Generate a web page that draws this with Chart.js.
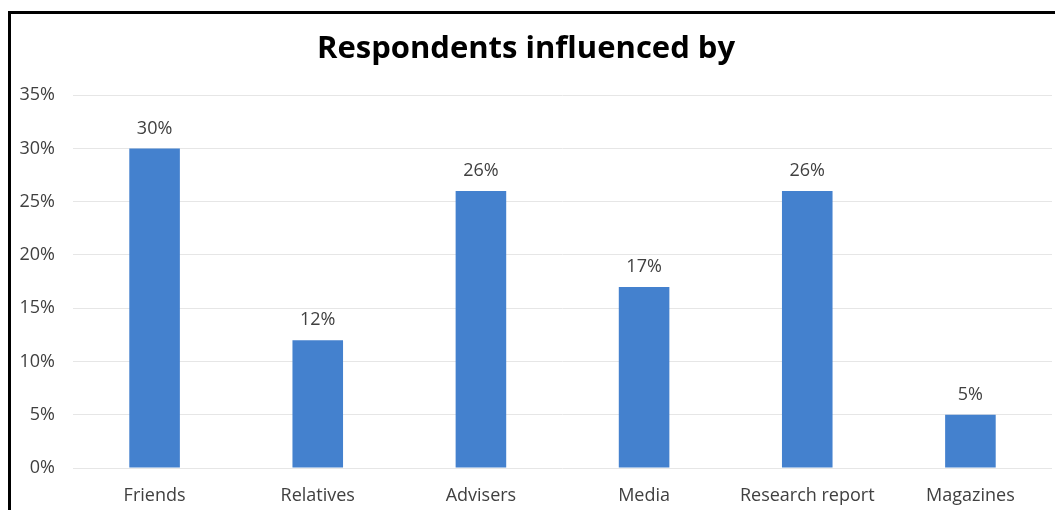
<!DOCTYPE html>
<html><head><meta charset="utf-8">
<script src="https://cdn.jsdelivr.net/npm/chart.js@4/dist/chart.umd.min.js"></script>
<style>
html,body{margin:0;padding:0;background:#fff;overflow:hidden;width:1055px;height:510px;}
#frame{position:absolute;left:8px;top:11px;width:1100px;height:560px;border:3px solid #000;box-sizing:border-box;}
#wrap{position:absolute;left:0;top:0;width:1055px;height:510px;}
</style></head>
<body>
<div id="frame"></div>
<div id="wrap"><canvas id="c" width="1055" height="510"></canvas></div>
<script>
const categories = ["Friends","Relatives","Advisers","Media","Research report","Magazines"];
const values = [30,12,26,17,26,5];
const yTicks = [0,5,10,15,20,25,30,35];
const titleText = "Respondents influenced by";

const FONT = "'Open Sans', Lato, 'Liberation Sans', sans-serif";
const labelPlugin = {
  id:'valueLabels',
  afterDatasetsDraw(chart){
    const ctx = chart.ctx;
    const meta = chart.getDatasetMeta(0);
    ctx.save();
    ctx.font = "18px " + FONT;
    ctx.fillStyle = "#404040";
    ctx.textAlign = "center";
    ctx.textBaseline = "middle";
    meta.data.forEach((bar,i)=>{
      ctx.fillText(values[i] + "%", bar.x, bar.y - 20);
    });
    ctx.restore();
  }
};

new Chart(document.getElementById('c'),{
  type:'bar',
  data:{labels:categories,datasets:[{data:values,backgroundColor:'#4481CE',borderWidth:0,barPercentage:0.62,categoryPercentage:0.5}]},
  options:{
    responsive:false,animation:false,
    layout:{padding:{left:0,right:3,top:0,bottom:0}},
    plugins:{
      legend:{display:false},tooltip:{enabled:false},
      title:{display:true,text:titleText,color:'#000',font:{family:FONT,size:31,weight:'bold',lineHeight:1.2},padding:{top:31,bottom:27}}
    },
    scales:{
      x:{
        grid:{display:false,drawTicks:false},border:{display:false},
        ticks:{color:'#404040',font:{family:FONT,size:18},padding:17,maxRotation:0,autoSkip:false},
        afterFit(s){s.height=42;}
      },
      y:{
        min:0,max:35,
        afterBuildTicks(s){s.ticks = yTicks.map(v=>({value:v}));},
        grid:{color:'#e6e6e6',lineWidth:1,drawTicks:false},border:{display:false},
        ticks:{color:'#404040',font:{family:FONT,size:18},padding:18,callback:v=>v+'%'},
        afterFit(s){s.width=73;}
      }
    }
  },
  plugins:[labelPlugin]
});
</script>
</body></html>
